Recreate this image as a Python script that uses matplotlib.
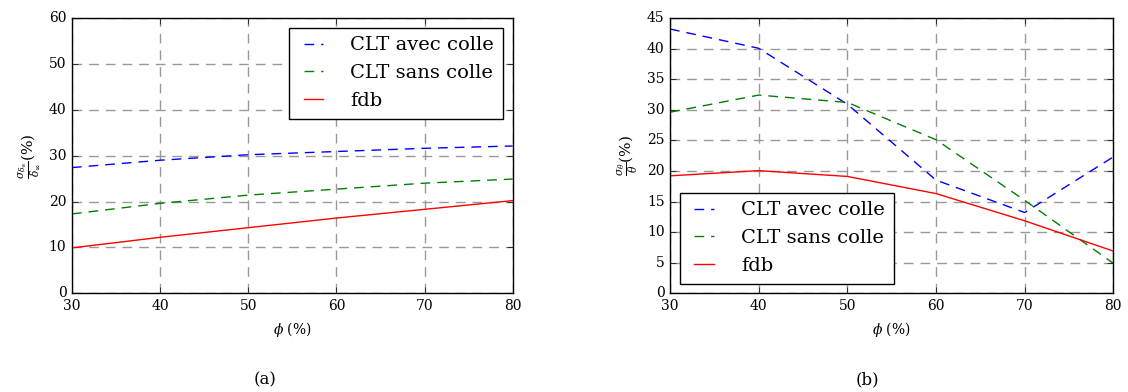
import matplotlib
matplotlib.use("Agg")
import matplotlib.pyplot as plt

phi = [30, 40, 50, 60, 70, 80]

# (a) sigma_delta / delta (%)
a_avec = [27.4, 29.0, 30.2, 30.9, 31.6, 32.1]
a_sans = [17.3, 19.6, 21.4, 22.7, 24.0, 24.9]
a_fdb = [9.9, 12.2, 14.3, 16.4, 18.3, 20.2]

# (b) sigma_theta / theta (%)
b_avec = [43.2, 40.05, 30.9, 18.5, 13.2, 22.3]
b_sans = [29.6, 32.4, 31.2, 25.1, 15.2, 4.9]
b_fdb = [19.2, 20.05, 19.1, 16.3, 11.85, 6.9]

labels = ["CLT avec colle", "CLT sans colle", "fdb"]
xticks = [30, 40, 50, 60, 70, 80]
a_yticks = [0, 10, 20, 30, 40, 50, 60]
b_yticks = [0, 5, 10, 15, 20, 25, 30, 35, 40, 45]

plt.style.use("classic")
plt.rcParams["font.family"] = ["DejaVu Serif"]
plt.rcParams["mathtext.fontset"] = "dejavuserif"
plt.rcParams["font.size"] = 10

fig = plt.figure(figsize=(11.28, 3.92), dpi=100, facecolor="white")
ax1 = fig.add_axes([0.0638, 0.2518, 0.3907, 0.7023])
ax2 = fig.add_axes([0.5940, 0.2518, 0.3930, 0.7023])

dash = (0, (7, 5))


def style(ax, yticks, ylabel, loc):
    ax.set_xlim(30, 80)
    ax.set_ylim(yticks[0], yticks[-1])
    ax.set_xticks(xticks)
    ax.set_yticks(yticks)
    ax.tick_params(labelsize=10)
    ax.grid(True, linestyle=dash, color="#999999", linewidth=1.0)
    ax.set_axisbelow(True)
    ax.set_xlabel(r"$\phi$ (%)", fontsize=10)
    ax.set_ylabel(ylabel, fontsize=11)
    leg = ax.legend(loc=loc, fontsize=14, handlelength=1.6, handletextpad=1.1,
                    borderpad=0.45, labelspacing=0.5, borderaxespad=0.5)
    leg.get_frame().set_linewidth(1.0)


for ax, ys in ((ax1, (a_avec, a_sans, a_fdb)), (ax2, (b_avec, b_sans, b_fdb))):
    ax.plot(phi, ys[0], color="blue", linestyle=dash, linewidth=1.0, label=labels[0])
    ax.plot(phi, ys[1], color="green", linestyle=dash, linewidth=1.0, label=labels[1])
    ax.plot(phi, ys[2], color="red", linestyle="-", linewidth=1.0, label=labels[2])

style(ax1, a_yticks, r"$\frac{\sigma_{\delta_\infty}}{\delta_\infty}$(%)", "upper right")
style(ax2, b_yticks, r"$\frac{\sigma_{\theta}}{\theta}$(%)", "lower left")

fig.text(0.235, 0.031, "(a)", ha="center", va="center", fontsize=12)
fig.text(0.7686, 0.031, "(b)", ha="center", va="center", fontsize=12)

fig.savefig("out.png", dpi=100, facecolor="white")
